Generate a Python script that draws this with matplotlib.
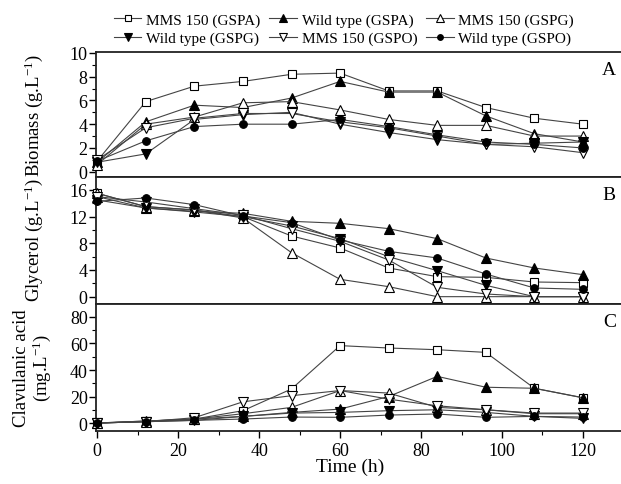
import matplotlib.pyplot as plt
from matplotlib.ticker import MultipleLocator

plt.rcParams['font.family'] = ['Liberation Serif', 'DejaVu Serif']
plt.rcParams['mathtext.fontset'] = 'custom'
plt.rcParams['mathtext.rm'] = 'Liberation Serif'
plt.rcParams['mathtext.it'] = 'Liberation Serif:italic'
plt.rcParams['mathtext.bf'] = 'Liberation Serif:bold'

# sampling times (h)
time_h = [0, 12, 24, 36, 48, 60, 72, 84, 96, 108, 120]

series_names = ['MMS 150 (GSPA)', 'Wild type (GSPA)', 'MMS 150 (GSPG)',
                'Wild type (GSPG)', 'MMS 150 (GSPO)', 'Wild type (GSPO)']

# biomass (g/L)
biomass_mms_gspa = [0.9, 5.9, 7.2, 7.6, 8.2, 8.3, 6.8, 6.8, 5.4, 4.5, 4.0]
biomass_wt_gspa = [0.8, 4.2, 5.6, 5.4, 6.2, 7.6, 6.7, 6.7, 4.7, 3.2, 2.5]
biomass_mms_gspg = [0.6, 4.0, 4.6, 5.8, 5.9, 5.2, 4.4, 3.9, 3.9, 3.0, 3.0]
biomass_wt_gspg = [0.8, 1.5, 4.4, 4.8, 5.0, 4.0, 3.3, 2.7, 2.3, 2.4, 2.5]
biomass_mms_gspo = [1.0, 3.7, 4.5, 4.9, 4.9, 4.2, 3.7, 3.0, 2.3, 2.1, 1.6]
biomass_wt_gspo = [0.9, 2.6, 3.8, 4.0, 4.0, 4.4, 3.8, 3.1, 2.5, 2.3, 2.0]

# glycerol (g/L)
glycerol_mms_gspa = [15.5, 13.5, 13.0, 12.0, 9.1, 7.3, 4.3, 3.0, 2.9, 2.2, 2.1]
glycerol_wt_gspa = [15.0, 13.3, 12.8, 12.5, 11.3, 11.0, 10.2, 8.7, 5.8, 4.3, 3.3]
glycerol_mms_gspg = [15.5, 13.5, 13.0, 11.8, 6.6, 2.6, 1.5, 0.0, 0.0, 0.0, 0.0]
glycerol_wt_gspg = [14.5, 13.3, 12.7, 12.0, 10.6, 8.7, 6.0, 3.9, 1.7, 0.0, 0.0]
glycerol_mms_gspo = [15.0, 14.2, 13.2, 12.2, 10.2, 8.3, 5.5, 1.4, 0.4, 0.0, 0.0]
glycerol_wt_gspo = [14.3, 14.8, 13.8, 12.1, 11.1, 8.5, 6.8, 5.8, 3.4, 1.3, 1.1]

# clavulanic acid (mg/L)
clav_mms_gspa = [0, 1.5, 3, 9.3, 25.7, 58.4, 56.6, 55.3, 53.3, 26.2, 19.1]
clav_wt_gspa = [0, 1.5, 3, 5, 8, 10.5, 20, 35.2, 27, 26.2, 19]
clav_mms_gspg = [0, 1, 3, 7, 11.8, 24.5, 22.6, 11.8, 10, 7, 7]
clav_wt_gspg = [0, 1, 2, 5, 7.5, 8, 9.3, 10, 8, 5, 3.5]
clav_mms_gspo = [0, 1, 4, 16, 20.6, 24.5, 18, 13, 10, 7.5, 7.5]
clav_wt_gspo = [0, 1, 2, 3, 4.5, 4.3, 6, 6.8, 4.3, 5, 4.5]

markers = ['s', '^', '^', 'v', 'v', 'o']
faces = ['white', 'black', 'white', 'black', 'white', 'black']
msizes = [6, 7, 7.5, 7, 7.5, 5.5]

W, H = 621, 485
fig = plt.figure(figsize=(W / 100, H / 100), dpi=100)

left = 96 / W
width = 1 - left
panels = [
    (53.3, 178.3, [biomass_mms_gspa, biomass_wt_gspa, biomass_mms_gspg,
                   biomass_wt_gspg, biomass_mms_gspo, biomass_wt_gspo],
     (-0.47, 10.05), 2, 1, 'A'),
    (178.3, 305, [glycerol_mms_gspa, glycerol_wt_gspa, glycerol_mms_gspg,
                  glycerol_wt_gspg, glycerol_mms_gspo, glycerol_wt_gspo],
     (-1.1, 17.9), 4, 2, 'B'),
    (305, 431.7, [clav_mms_gspa, clav_wt_gspa, clav_mms_gspg,
                  clav_wt_gspg, clav_mms_gspo, clav_wt_gspo],
     (-5.8, 89.8), 20, 10, 'C'),
]

axes = []
handles = []
for top, bottom, data, ylim, major, minor, letter in panels:
    ax = fig.add_axes([left, 1 - bottom / H, width, (bottom - top) / H])
    for i, vals in enumerate(data):
        h, = ax.plot(time_h, vals, color='#444444', lw=0.8, marker=markers[i],
                     ms=msizes[i], mfc=faces[i], mec='black', mew=0.8,
                     clip_on=False, zorder=3, label=series_names[i])
        if letter == 'A':
            handles.append(h)
    ax.set_xlim(-0.3, 129.4)
    ax.set_ylim(*ylim)
    ax.yaxis.set_major_locator(MultipleLocator(major))
    ax.yaxis.set_minor_locator(MultipleLocator(minor))
    ax.xaxis.set_major_locator(MultipleLocator(20))
    ax.xaxis.set_minor_locator(MultipleLocator(10))
    ax.tick_params(axis='y', which='major', direction='out', length=5, width=1.0,
                   labelsize=13, pad=1)
    ax.tick_params(axis='y', which='minor', direction='out', length=3, width=0.8)
    ax.tick_params(axis='x', which='major', direction='out', length=5, width=1.0,
                   labelsize=13, pad=3)
    ax.tick_params(axis='x', which='minor', direction='out', length=3, width=0.8)
    ax.spines['right'].set_visible(False)
    for s in ['top', 'bottom', 'left']:
        ax.spines[s].set_linewidth(1.3)
        ax.spines[s].set_color('#222222')
    if letter != 'C':
        ax.tick_params(axis='x', which='both', bottom=False, labelbottom=False)
    ax.text(0.99, 0.93, letter, transform=ax.transAxes, ha='right', va='top',
            fontsize=14)
    axes.append(ax)

fig.text(34 / W, 1 - 116 / H, r'Biomass (g.L$^{\mathregular{-1}}$)', rotation=90,
         ha='center', va='center', fontsize=13.5)
fig.text(34 / W, 1 - 240 / H, r'Glycerol (g.L$^{\mathregular{-1}}$)', rotation=90,
         ha='center', va='center', fontsize=13.5)
fig.text(33 / W, 1 - 368 / H, 'Clavulanic acid\n' + r'(mg.L$^{\mathregular{-1}}$)',
         rotation=90, ha='center', va='center', fontsize=13.5, linespacing=1.05)
fig.text(350 / W, 1 - 467 / H, 'Time (h)', ha='center', va='center', fontsize=14)

order = [0, 3, 1, 4, 2, 5]
fig.legend([handles[i] for i in order], [series_names[i] for i in order],
           loc='upper center', bbox_to_anchor=(344 / W, 1 - 8 / H), ncol=3,
           frameon=False, fontsize=11, handlelength=1.8, handletextpad=0.3,
           columnspacing=0.6, labelspacing=0.3, borderaxespad=0,
           markerscale=0.75)

fig.savefig('out.png', dpi=100)
